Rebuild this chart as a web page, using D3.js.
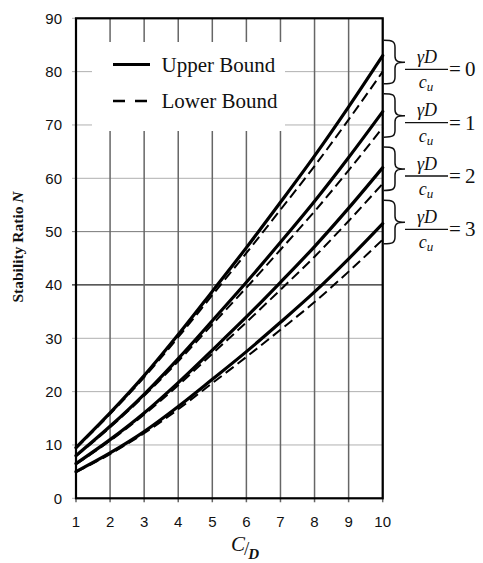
<!DOCTYPE html>
<html>
<head>
<meta charset="utf-8">
<script src="https://cdn.jsdelivr.net/npm/d3@7"></script>
<style>
html,body{margin:0;padding:0;background:#fff;}
svg{display:block;}
</style>
</head>
<body>
<svg id="chart" width="483" height="563"></svg>
<script>
// ---- data ----
const coverRatio = [1, 2, 3, 4, 5, 6, 7, 8, 9, 10];           // C/D
const gammaValues = [0, 1, 2, 3];                              // γD/cu
const upper0 = [9.5, 16.0, 23.0, 30.7, 38.8, 47.0, 55.5, 64.2, 73.4, 83.0];
const upper1 = [8.0, 13.5, 19.5, 26.2, 33.3, 40.5, 48.0, 55.7, 63.9, 72.5];
const upper2 = [6.5, 11.0, 16.0, 21.7, 27.8, 34.0, 40.5, 47.2, 54.4, 62.0];
const upper3 = [5.0, 8.5, 12.5, 17.2, 22.3, 27.5, 33.0, 38.7, 44.9, 51.5];
const lower0 = [9.4, 15.8, 22.7, 30.2, 38.1, 46.0, 54.1, 62.3, 71.0, 80.0];
const lower1 = [7.9, 13.3, 19.2, 25.7, 32.6, 39.5, 46.6, 53.8, 61.5, 69.5];
const lower2 = [6.4, 10.8, 15.7, 21.2, 27.1, 33.0, 39.1, 45.3, 52.0, 59.0];
const lower3 = [4.9, 8.3, 12.2, 16.7, 21.6, 26.5, 31.6, 36.8, 42.5, 48.5];
const xTickLabels = [1, 2, 3, 4, 5, 6, 7, 8, 9, 10];
const yTickLabels = [0, 10, 20, 30, 40, 50, 60, 70, 80, 90];
const legendLabels = ["Upper Bound", "Lower Bound"];

const upperSeries = [upper0, upper1, upper2, upper3];
const lowerSeries = [lower0, lower1, lower2, lower3];

// ---- layout ----
const svg = d3.select("#chart");
const L = 76, R = 382.7, T = 18.3, B = 498.3;
const x = d3.scaleLinear().domain([1, 10]).range([L, R]);
const y = d3.scaleLinear().domain([0, 90]).range([B, T]);

// grid: horizontal
const gH = svg.append("g");
gH.selectAll("line").data(yTickLabels).join("line")
  .attr("x1", L - 4).attr("x2", R)
  .attr("y1", d => y(d)).attr("y2", d => y(d))
  .attr("stroke", d => d === 40 ? "#222" : (d === 50 ? "#777" : "#b0b0b0"))
  .attr("stroke-width", d => d === 40 ? 1.2 : 1);

// grid: vertical
const gV = svg.append("g");
gV.selectAll("line").data(xTickLabels).join("line")
  .attr("x1", d => x(d)).attr("x2", d => x(d))
  .attr("y1", T).attr("y2", B + 4)
  .attr("stroke", "#666").attr("stroke-width", 1.5);

// legend box (white, covers grid)
svg.append("rect").attr("x", 92).attr("y", 42).attr("width", 193).attr("height", 89).attr("fill", "#fff");

// axis labels
svg.append("g").selectAll("text").data(yTickLabels).join("text")
  .attr("x", 62).attr("y", d => y(d)).attr("dy", "0.36em")
  .attr("text-anchor", "end")
  .attr("font-family", "Liberation Sans, Arial, sans-serif").attr("font-size", 15)
  .attr("fill", "#111")
  .text(d => d);
svg.append("g").selectAll("text").data(xTickLabels).join("text")
  .attr("x", d => x(d)).attr("y", 526.5)
  .attr("text-anchor", "middle")
  .attr("font-family", "Liberation Sans, Arial, sans-serif").attr("font-size", 15)
  .attr("fill", "#111")
  .text(d => d);

// curves
const line = d3.line().x((d, i) => x(coverRatio[i])).y(d => y(d)).curve(d3.curveMonotoneX);
svg.append("g").selectAll("path").data(lowerSeries).join("path")
  .attr("d", line).attr("fill", "none").attr("stroke", "#000")
  .attr("stroke-width", 2).attr("stroke-dasharray", "10,5");
svg.append("g").selectAll("path").data(upperSeries).join("path")
  .attr("d", line).attr("fill", "none").attr("stroke", "#000")
  .attr("stroke-width", 3.2).attr("stroke-linecap", "round");

// frame
svg.append("rect").attr("x", L).attr("y", T).attr("width", R - L).attr("height", B - T)
  .attr("fill", "none").attr("stroke", "#000").attr("stroke-width", 2.2);

// legend
const leg = svg.append("g");
leg.append("line").attr("x1", 113).attr("x2", 150).attr("y1", 64.5).attr("y2", 64.5)
  .attr("stroke", "#000").attr("stroke-width", 3);
leg.append("line").attr("x1", 113).attr("x2", 151).attr("y1", 101).attr("y2", 101)
  .attr("stroke", "#000").attr("stroke-width", 2.5).attr("stroke-dasharray", "12,10");
leg.selectAll("text").data(legendLabels).join("text")
  .attr("x", 161.5).attr("y", (d, i) => i === 0 ? 71.7 : 107.5)
  .attr("font-family", "Liberation Serif, Times New Roman, serif").attr("font-size", 21)
  .attr("fill", "#111")
  .text(d => d);

// y axis title
const yt = svg.append("text")
  .attr("transform", "translate(23,247) rotate(-90)")
  .attr("text-anchor", "middle")
  .attr("font-family", "Liberation Serif, Times New Roman, serif").attr("font-size", 15.5)
  .attr("font-weight", "bold").attr("fill", "#111");
yt.append("tspan").text("Stability Ratio ");
yt.append("tspan").attr("font-style", "italic").text("N");

// x axis title C/D (single text, shifted parts)
const xt = svg.append("text").attr("x", 231).attr("y", 551)
  .attr("font-family", "Liberation Serif, Times New Roman, serif").attr("fill", "#111");
xt.append("tspan").attr("font-style", "italic").attr("font-size", 21).text("C");
xt.append("tspan").attr("font-size", 19).attr("dy", 4).attr("dx", -1).text("/");
xt.append("tspan").attr("font-style", "italic").attr("font-weight", "bold").attr("font-size", 15)
  .attr("dy", 4).attr("dx", -1).text("D");

// right annotations: braces and fractions
const ann = svg.append("g").attr("font-family", "Liberation Serif, Times New Roman, serif").attr("fill", "#111");
gammaValues.forEach((g, k) => {
  const barY = y(80 - 10 * k) - 2.3;
  const cy = barY - 7;          // brace tip
  const top = cy - 22, bot = cy + 21.5;
  const x0 = R + 1, xm = 395, xt2 = 405;
  const p = `M${x0},${top} C${x0 + 9},${top} ${xm},${top + 1} ${xm},${top + 7} L${xm},${cy - 6} C${xm},${cy - 1} ${xm + 3},${cy} ${xt2},${cy} ` +
            `C${xm + 3},${cy} ${xm},${cy + 1} ${xm},${cy + 6} L${xm},${bot - 7} C${xm},${bot - 1} ${x0 + 9},${bot} ${x0},${bot}`;
  ann.append("path").attr("d", p).attr("fill", "none").attr("stroke", "#111").attr("stroke-width", 1.5);
  ann.append("line").attr("x1", 405).attr("x2", 448).attr("y1", barY).attr("y2", barY)
    .attr("stroke", "#111").attr("stroke-width", 1.3);
  ann.append("text").attr("x", 427).attr("y", barY - 6.5).attr("text-anchor", "middle")
    .attr("font-style", "italic").attr("font-size", 18).text("γD");
  const den = ann.append("text").attr("x", 426).attr("y", barY + 19).attr("text-anchor", "middle")
    .attr("font-style", "italic").attr("font-size", 18);
  den.append("tspan").text("c");
  den.append("tspan").attr("font-size", 13).attr("dy", 3).text("u");
  ann.append("text").attr("x", 449).attr("y", barY + 7)
    .attr("font-size", 21).text("=" + "\u2009" + g);
});
</script>
</body>
</html>
